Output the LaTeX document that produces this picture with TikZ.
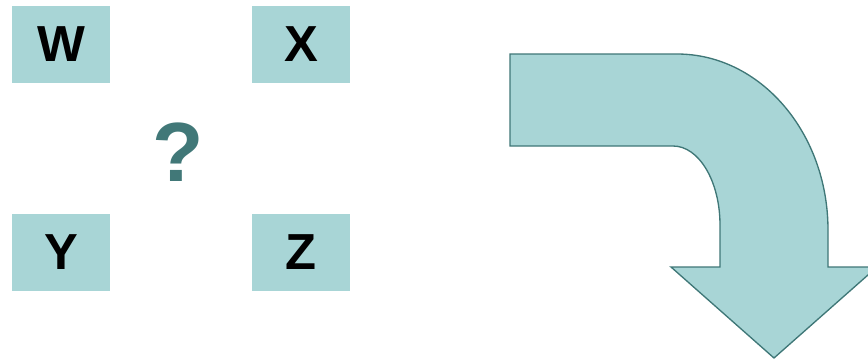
\documentclass[tikz,border=0pt]{standalone}
\usepackage{fontspec}
\setmainfont{Liberation Sans}
\definecolor{tealfill}{HTML}{A8D5D6}
\definecolor{tealline}{HTML}{3F7777}
\definecolor{qmark}{HTML}{417878}
\begin{document}
\begin{tikzpicture}[x=0.75pt,y=-0.75pt,
  letterbox/.style={fill=tealfill,draw=none,minimum width=73.5pt,minimum height=57.75pt,
    inner sep=0pt,font=\fontsize{38}{38}\selectfont\bfseries,text=black}]
\useasboundingbox (0,0) rectangle (868,361);
\clip (0,0) rectangle (868,361);
% four letter tiles
\node[letterbox] (w) at (61,44.5) {W};
\node[letterbox] (x) at (301,44.5) {X};
\node[letterbox] (y) at (61,252.5) {Y};
\node[letterbox] (z) at (301,252.5) {Z};
% question mark between the tiles
\node[text=qmark,font=\fontsize{63}{63}\selectfont\bfseries,inner sep=0pt] (q) at (178,152) {?};
% bent arrow
\draw[fill=tealfill,draw=tealline,line width=1pt,line join=miter]
  (510,54) -- (677,54)
  .. controls (760.4,54) and (828,132.8) .. (828,230)
  -- (828,267) -- (877,267) -- (774,358) -- (671,267) -- (720,267) -- (720,225)
  .. controls (720,181.4) and (699,146) .. (673,146)
  -- (510,146) -- cycle;
\end{tikzpicture}
\end{document}
